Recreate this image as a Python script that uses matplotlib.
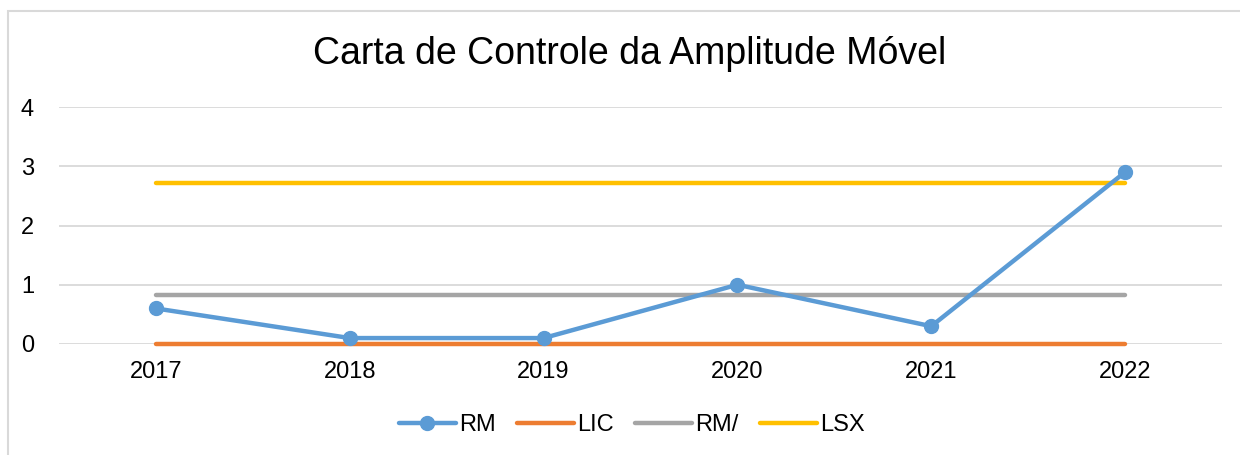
import matplotlib
matplotlib.use("Agg")
import matplotlib.pyplot as plt
from matplotlib.patches import Rectangle

plt.rcParams['font.family'] = ['Liberation Sans', 'DejaVu Sans']

years = ["2017", "2018", "2019", "2020", "2021", "2022"]
rm = [0.6, 0.1, 0.1, 1.0, 0.3, 2.9]
lic = [0, 0, 0, 0, 0, 0]
rm_bar = [0.83, 0.83, 0.83, 0.83, 0.83, 0.83]
lsx = [2.72, 2.72, 2.72, 2.72, 2.72, 2.72]
yticks = [0, 1, 2, 3, 4]

W, H = 1240, 455
fig = plt.figure(figsize=(W / 100, H / 100), dpi=100)

# chart frame
fig.patches.append(Rectangle((7.5 / W, -0.1), 1.2, 1 - 11 / H + 0.1,
                             transform=fig.transFigure, fill=False,
                             edgecolor="#D9D9D9", linewidth=1.5))

ax = fig.add_axes([59 / W, 1 - 344 / H, (1222 - 59) / W, (344 - 107) / H])
x = list(range(len(years)))

lw = 3.2
ax.plot(x, lic, color="#ED7D31", lw=lw, solid_capstyle="round", label="LIC",
        zorder=3, clip_on=False)
ax.plot(x, rm_bar, color="#A5A5A5", lw=lw, solid_capstyle="round", label="RM/", zorder=3)
ax.plot(x, lsx, color="#FFC000", lw=lw, solid_capstyle="round", label="LSX", zorder=3)
ax.plot(x, rm, color="#5B9BD5", lw=lw, marker="o", markersize=10,
        solid_capstyle="round", label="RM", zorder=4, clip_on=False)

ax.set_xlim(-0.5, len(years) - 0.5)
ax.set_ylim(0, 4)
ax.set_yticks(yticks)
ax.set_xticks(x)
ax.set_xticklabels(years)
ax.grid(axis="y", color="#D9D9D9", lw=1.3)
ax.set_axisbelow(True)
for s in ax.spines.values():
    s.set_visible(False)
ax.tick_params(length=0, labelsize=17, colors="black")
ax.tick_params(axis="y", pad=18)
ax.tick_params(axis="x", pad=12)

fig.text(630 / W, 1 - 54 / H, "Carta de Controle da Amplitude Móvel",
         ha="center", va="center", fontsize=27)

handles, labels = ax.get_legend_handles_labels()
order = [3, 0, 1, 2]
leg = fig.legend([handles[i] for i in order], [labels[i] for i in order],
                 loc="center", bbox_to_anchor=(632 / W, 1 - 425 / H), ncol=4,
                 frameon=False, fontsize=17, handlelength=2.4,
                 handletextpad=0.15, columnspacing=0.9)

fig.savefig("out.png", dpi=100)
